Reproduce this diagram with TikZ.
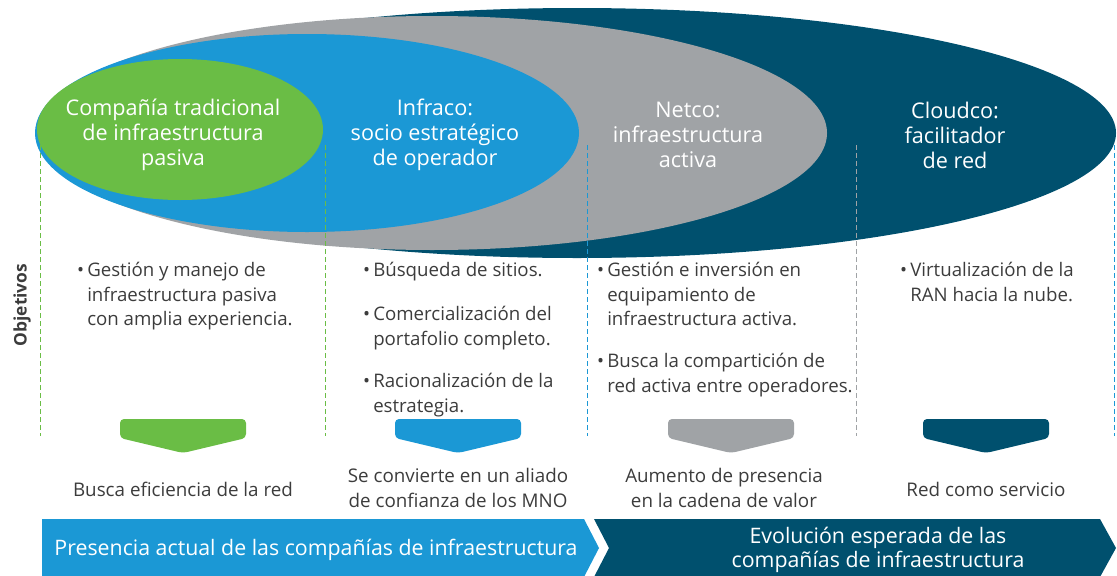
\documentclass[tikz,border=0pt]{standalone}
\usepackage{fontspec}
\setmainfont{Open Sans}
\usepackage{xcolor}
\usetikzlibrary{positioning}
\definecolor{infragreen}{RGB}{106,189,69}
\definecolor{infrablue}{RGB}{27,152,213}
\definecolor{netgray}{RGB}{160,163,166}
\definecolor{clouddark}{RGB}{0,80,110}
\definecolor{textgray}{RGB}{60,60,60}

\begin{document}
\begin{tikzpicture}[x=0.75pt,y=-0.75pt,
    elltext/.style={text=white, align=center, font=\fontsize{16.2}{18.75}\selectfont},
    objtext/.style={text=textgray, align=left, anchor=north west, inner sep=0pt, font=\fontsize{14}{18.4}\selectfont},
    restext/.style={text=textgray, align=center, font=\fontsize{14.1}{18.4}\selectfont},
    guide/.style={dashed, line width=0.75pt, dash pattern=on 3.75pt off 2.25pt},
    badge/.style={rounded corners=3pt},
    bannertext/.style={text=white, align=center, font=\fontsize{16}{18}\selectfont}]
    \useasboundingbox (0,0) rectangle (1117,575);

    % nested company models
    \fill[clouddark] (577,133) ellipse [x radius=539, y radius=125];
    \fill[netgray] (432,133) ellipse [x radius=395, y radius=117];
    \fill[infrablue] (307,133) ellipse [x radius=272, y radius=99];
    \fill[infragreen] (180,129.5) ellipse [x radius=143, y radius=70.5];

    \node[elltext] (trad) at (173,135) {Compañía tradicional\\de infraestructura\\pasiva};
    \node[elltext] (infraco) at (435,135) {Infraco:\\socio estratégico\\de operador};
    \node[elltext] (netco) at (688,135) {Netco:\\infraestructura\\activa};
    \node[elltext] (cloudco) at (955,135) {Cloudco:\\facilitador\\de red};

    % column guides
    \draw[guide, infragreen] (40,145) -- (40,436);
    \draw[guide, infragreen] (325,145) -- (325,436);
    \draw[guide, infrablue] (587,145) -- (587,436);
    \draw[guide, netgray] (856,145) -- (856,436);
    \draw[guide, infrablue] (1114,145) -- (1114,436);

    \node[rotate=90, text=textgray, font=\fontsize{13}{15}\bfseries] (obj) at (22,305) {Objetivos};

    % objectives
    \node[objtext] (obj1) at (87,262) {\llap{\textbullet\,}Gestión y manejo de\\infraestructura pasiva\\con amplia experiencia.};
    \node[objtext] (obj2a) at (373,262) {\llap{\textbullet\,}Búsqueda de sitios.};
    \node[objtext] (obj2b) at (373,306) {\llap{\textbullet\,}Comercialización del\\portafolio completo.};
    \node[objtext] (obj2c) at (373,373) {\llap{\textbullet\,}Racionalización de la\\estrategia.};
    \node[objtext] (obj3a) at (607,262) {\llap{\textbullet\,}Gestión e inversión en\\equipamiento de\\infraestructura activa.};
    \node[objtext] (obj3b) at (607,353) {\llap{\textbullet\,}Busca la compartición de\\red activa entre operadores.};
    \node[objtext] (obj4) at (910,262) {\llap{\textbullet\,}Virtualización de la\\RAN hacia la nube.};

    % down markers
    \foreach \cx/\col in {183/infragreen, 458/infrablue, 731/netgray, 986/clouddark}
        \fill[\col, badge] (\cx-63,419) -- (\cx+63,419) -- (\cx+63,438) -- (\cx,453) -- (\cx-63,438) -- cycle;

    \node[restext] (res1) at (183,489) {Busca eficiencia de la red};
    \node[restext] (res2) at (458,488) {Se convierte en un aliado\\de confianza de los MNO};
    \node[restext] (res3) at (724,488) {Aumento de presencia\\en la cadena de valor};
    \node[restext] (res4) at (986,489) {Red como servicio};

    % timeline banners
    \fill[clouddark] (594,519) -- (1100,519) -- (1116,548) -- (1100,577) -- (594,577) -- (609,548) -- cycle;
    \fill[infrablue] (42,519) -- (584,519) -- (599,548) -- (584,577) -- (42,577) -- cycle;
    \node[bannertext] (now) at (316,550) {Presencia actual de las compañías de infraestructura};
    \node[bannertext] (next) at (878,550) {Evolución esperada de las\\compañías de infraestructura};
\end{tikzpicture}
\end{document}
